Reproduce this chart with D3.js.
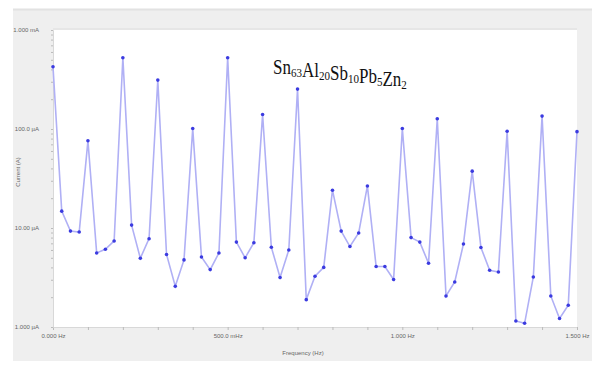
<!DOCTYPE html>
<html>
<head>
<meta charset="utf-8">
<script src="https://cdn.jsdelivr.net/npm/d3@7"></script>
<style>
  body { margin: 0; background: #fff; }
  svg { display: block; }
</style>
</head>
<body>
<div id="container"></div>
<script>
const freqStep = 0.025;
const current = [
  425, 14.8, 9.3, 9.1, 76, 5.6, 6.1, 7.4, 525, 10.7,
  4.95, 7.8, 312, 5.4, 2.58, 4.76, 101, 5.1, 3.8, 5.6,
  525, 7.2, 5.0, 7.1, 140, 6.4, 3.16, 6.0, 253, 1.89,
  3.26, 4.0, 24.1, 9.3, 6.5, 8.9, 26.6, 4.08, 4.08, 3.02,
  101, 8.0, 7.2, 4.4, 127, 2.06, 2.85, 6.9, 37.5, 6.35,
  3.74, 3.6, 95, 1.15, 1.09, 3.2, 135, 2.06, 1.22, 1.66,
  94
];
const data = current.map((v, i) => ({ f: i * freqStep, v: v }));

const xTicks = [0, 0.5, 1.0, 1.5];
const xTickLabels = ["0.000 Hz", "500.0 mHz", "1.000 Hz", "1.500 Hz"];
const yTicks = [1, 10, 100, 1000];
const yTickLabels = ["1.000 µA", "10.00 µA", "100.0 µA", "1.000 mA"];

const W = 592, H = 365;
const plot = { left: 53, right: 577, top: 30, bottom: 327 };

const svg = d3.select("#container")
    .append("svg")
    .attr("width", W)
    .attr("height", H);

// Grey panel behind the chart
svg.append("rect")
    .attr("x", 13).attr("y", 9)
    .attr("width", W - 13).attr("height", 352)
    .attr("fill", "#efefef");
svg.append("line")
    .attr("x1", 13).attr("x2", W).attr("y1", 9.5).attr("y2", 9.5)
    .attr("stroke", "#e2e2e2").attr("stroke-width", 2);

// White plot area
svg.append("rect")
    .attr("x", plot.left).attr("y", plot.top)
    .attr("width", plot.right - plot.left).attr("height", plot.bottom - plot.top)
    .attr("fill", "#fff");
svg.append("line")
    .attr("x1", plot.left).attr("x2", plot.right)
    .attr("y1", plot.top - 1).attr("y2", plot.top - 1)
    .attr("stroke", "#e6e6e6").attr("stroke-width", 2);

// Scales
const x = d3.scaleLinear().domain([0, 1.5]).range([plot.left, plot.right]);
const y = d3.scaleLog().domain([1, 1000]).range([plot.bottom, plot.top]);

// X axis
const xAxis = svg.append("g")
    .attr("transform", `translate(0,${plot.bottom})`)
    .call(d3.axisBottom(x)
        .tickValues(d3.range(0, 1.5001, 0.1))
        .tickSize(3)
        .tickFormat(d => {
            const k = xTicks.findIndex(t => Math.abs(t - d) < 1e-6);
            return k >= 0 ? xTickLabels[k] : "";
        }));
xAxis.select(".domain").attr("stroke", "#d8d8d8");
xAxis.selectAll(".tick line").attr("stroke", "#bbb");
xAxis.selectAll("text")
    .attr("font-family", "Liberation Sans, sans-serif")
    .attr("font-size", 6)
    .attr("fill", "#666")
    .attr("dy", "0.9em");

// Y axis with log minor ticks
const yMinor = [];
for (let dec = 1; dec < 1000; dec *= 10)
    for (let m = 1; m < 10; m++) yMinor.push(dec * m);
yMinor.push(1000);

const yAxis = svg.append("g")
    .attr("transform", `translate(${plot.left},0)`)
    .call(d3.axisLeft(y)
        .tickValues(yMinor)
        .tickSize(2)
        .tickFormat(d => {
            const k = yTicks.indexOf(d);
            return k >= 0 ? yTickLabels[k] : "";
        }));
yAxis.select(".domain").attr("stroke", "#d8d8d8");
yAxis.selectAll(".tick line").attr("stroke", "#bbb");
yAxis.selectAll("text")
    .attr("font-family", "Liberation Sans, sans-serif")
    .attr("font-size", 6)
    .attr("fill", "#666")
    .attr("dx", "-1.5em");

// Axis titles
svg.append("text")
    .attr("x", 303).attr("y", 355)
    .attr("text-anchor", "middle")
    .attr("font-family", "Liberation Sans, sans-serif")
    .attr("font-size", 6)
    .attr("fill", "#666")
    .text("Frequency (Hz)");

svg.append("text")
    .attr("transform", "translate(20,172) rotate(-90)")
    .attr("text-anchor", "middle")
    .attr("font-family", "Liberation Sans, sans-serif")
    .attr("font-size", 6)
    .attr("fill", "#666")
    .text("Current (A)");

// Series line and markers
const line = d3.line().x(d => x(d.f)).y(d => y(d.v));

svg.append("path")
    .datum(data)
    .attr("d", line)
    .attr("fill", "none")
    .attr("stroke", "#b0b0f5")
    .attr("stroke-width", 1.6);

svg.selectAll("circle.pt")
    .data(data)
    .enter()
    .append("circle")
    .attr("class", "pt")
    .attr("cx", d => x(d.f))
    .attr("cy", d => y(d.v))
    .attr("r", 1.8)
    .attr("fill", "#3b3be0");

// Alloy label with subscripts (narrow, as in the original)
const title = svg.append("text")
    .attr("transform", "translate(273,74) scale(0.85,1)")
    .attr("font-family", "Liberation Serif, serif")
    .attr("font-size", 20)
    .attr("fill", "#111");
[["Sn", "63"], ["Al", "20"], ["Sb", "10"], ["Pb", "5"], ["Zn", "2"]].forEach(([el, n]) => {
    title.append("tspan").text(el);
    title.append("tspan")
        .attr("font-size", 13)
        .attr("dy", 3)
        .text(n);
    title.append("tspan").attr("dy", -3).text("");
});
</script>
</body>
</html>
